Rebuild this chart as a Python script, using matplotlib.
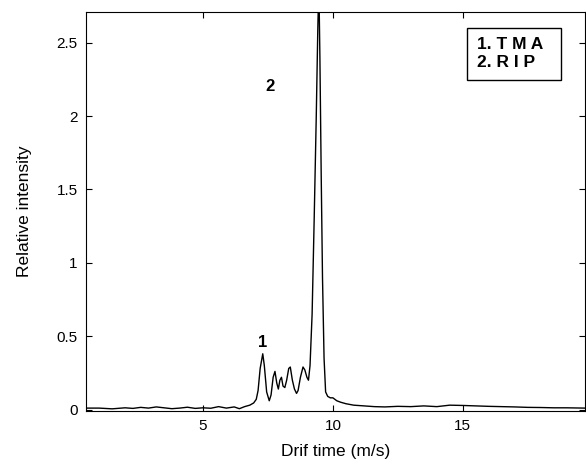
import matplotlib.pyplot as plt
from matplotlib.patches import Rectangle

# drift time (m/s) and relative intensity
drift_time = [0.5, 1.0, 1.5, 2.0, 2.3, 2.6, 2.9, 3.2, 3.5, 3.8, 4.1, 4.4, 4.7, 5.0, 5.3,
              5.6, 5.9, 6.2, 6.4, 6.6, 6.8, 6.95, 7.05, 7.12, 7.2, 7.3, 7.36, 7.45, 7.55,
              7.62, 7.7, 7.77, 7.84, 7.9, 7.96, 8.02, 8.08, 8.15, 8.22, 8.3, 8.36, 8.44,
              8.52, 8.6, 8.66, 8.75, 8.85, 8.92, 9.0, 9.06, 9.12, 9.2, 9.28, 9.36, 9.42,
              9.46, 9.5, 9.55, 9.6, 9.66, 9.72, 9.8, 9.9, 10.0, 10.15, 10.3, 10.5, 10.8,
              11.2, 11.6, 12.0, 12.5, 13.0, 13.5, 14.0, 14.5, 15.0, 15.5, 16.0, 16.5,
              17.0, 17.5, 18.0, 18.5, 19.0, 19.7]
intensity = [0.01, 0.01, 0.005, 0.012, 0.008, 0.015, 0.01, 0.018, 0.012, 0.006, 0.01, 0.016,
             0.008, 0.012, 0.009, 0.02, 0.01, 0.018, 0.006, 0.02, 0.03, 0.045, 0.07, 0.13,
             0.28, 0.38, 0.3, 0.12, 0.06, 0.1, 0.22, 0.26, 0.18, 0.14, 0.2, 0.22, 0.16,
             0.15, 0.2, 0.28, 0.29, 0.2, 0.14, 0.11, 0.13, 0.22, 0.29, 0.27, 0.22, 0.2,
             0.3, 0.65, 1.3, 2.0, 2.6, 2.9, 2.4, 1.6, 0.9, 0.35, 0.12, 0.09, 0.08, 0.08,
             0.06, 0.05, 0.04, 0.03, 0.025, 0.02, 0.018, 0.022, 0.02, 0.025, 0.02, 0.03,
             0.028, 0.025, 0.022, 0.02, 0.018, 0.015, 0.014, 0.012, 0.012, 0.01]

peak_labels = ['1', '2']
peak_x = [7.3, 7.58]
peak_y = [0.46, 2.2]
legend_lines = ['1. T M A', '2. R I P']

plt.rcParams['font.family'] = ['Liberation Sans', 'DejaVu Sans']

fig = plt.figure(figsize=(5.86, 4.73), dpi=100)
ax = fig.add_axes([0.147, 0.131, 0.851, 0.844])
ax.plot(drift_time, intensity, color='black', linewidth=1.0)

for lab, x, y in zip(peak_labels, peak_x, peak_y):
    ax.text(x, y, lab, fontsize=12, fontweight='bold', ha='center', va='center')

# boxed key in the upper right
ax.add_patch(Rectangle((0.764, 0.83), 0.188, 0.13, transform=ax.transAxes,
                       facecolor='white', edgecolor='black', linewidth=1.0, zorder=3))
for i, line in enumerate(legend_lines):
    ax.text(0.783, 0.918 - i * 0.046, line, transform=ax.transAxes, fontsize=12.5,
            fontweight='bold', ha='left', va='center', zorder=4)

ax.set_xlim(0.5, 19.7)
ax.set_ylim(-0.01, 2.71)
ax.set_xticks([5, 10, 15])
ax.set_yticks([0, 0.5, 1, 1.5, 2, 2.5])
ax.set_yticklabels(['0', '0.5', '1', '1.5', '2', '2.5'])
ax.tick_params(direction='in', top=True, right=True, labelsize=11, length=4, pad=6)
ax.set_xlabel('Drif time (m/s)', fontsize=12.5, labelpad=8)
ax.set_ylabel('Relative intensity', fontsize=12.5, labelpad=18)

plt.savefig('out.png', dpi=100)
